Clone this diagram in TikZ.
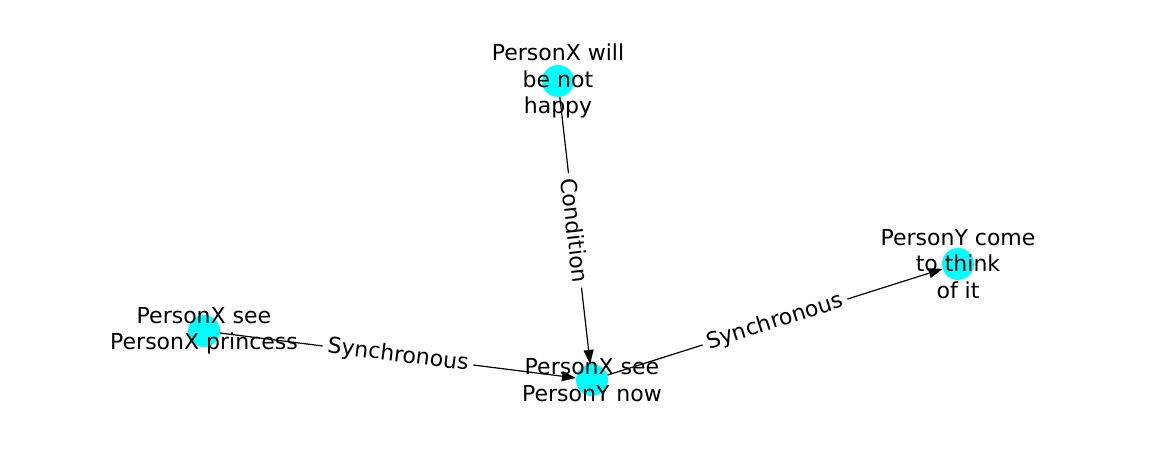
\documentclass[tikz,border=0pt]{standalone}
\usepackage{fontspec}
\setmainfont{DejaVu Sans}
\usetikzlibrary{arrows.meta}
\definecolor{nodecyan}{HTML}{00FFFF}

\begin{document}
\begin{tikzpicture}[x=1pt,y=1pt,
  dot/.style={circle,fill=nodecyan,inner sep=0pt,minimum size=32pt},
  lbl/.style={align=center,inner sep=0pt,font=\fontsize{22}{26.4}\selectfont},
  rel/.style={-{Triangle[length=14pt,width=10pt]},line width=1.2pt},
  rellbl/.style={fill=white,inner sep=5pt,sloped,font=\fontsize{22}{26.4}\selectfont}]
\useasboundingbox (0,0) rectangle (1162,462);

%Shape: Circle [will]
\node[dot] (will) at (558,381) {};
%Shape: Circle [princess]
\node[dot] (princess) at (204,131) {};
%Shape: Circle [now]
\node[dot] (now) at (592,82) {};
%Shape: Circle [think]
\node[dot] (think) at (958,198) {};

%Straight Lines [will -> now]
\draw[rel] (will) -- node[rellbl] {Condition} (now);
%Straight Lines [princess -> now]
\draw[rel] (princess) -- node[rellbl] {Synchronous} (now);
%Straight Lines [now -> think]
\draw[rel] (now) -- node[rellbl] {Synchronous} (think);

% Text Node
\node[lbl] (willtxt) at (558,381) {PersonX will\\be not\\happy};
% Text Node
\node[lbl] (princesstxt) at (204,131) {PersonX see\\PersonX princess};
% Text Node
\node[lbl] (nowtxt) at (592,82) {PersonX see\\PersonY now};
% Text Node
\node[lbl] (thinktxt) at (958,198) {PersonY come\\to think\\of it};

\end{tikzpicture}
\end{document}
